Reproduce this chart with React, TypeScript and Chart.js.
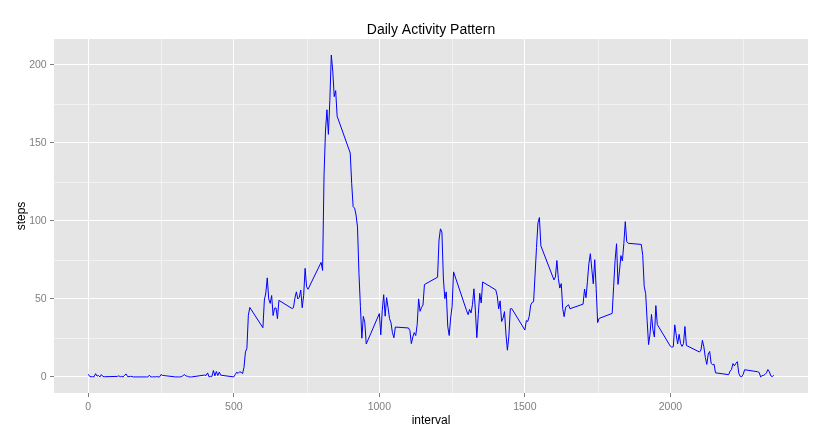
import React, { useEffect, useRef } from 'react';
import { Chart, registerables } from 'chart.js';
Chart.register(...registerables);

// 5-minute intervals (HHMM), one row per hour
const intervals: number[] = [
  0, 5, 10, 15, 20, 25, 30, 35, 40, 45, 50, 55,
  100, 105, 110, 115, 120, 125, 130, 135, 140, 145, 150, 155,
  200, 205, 210, 215, 220, 225, 230, 235, 240, 245, 250, 255,
  300, 305, 310, 315, 320, 325, 330, 335, 340, 345, 350, 355,
  400, 405, 410, 415, 420, 425, 430, 435, 440, 445, 450, 455,
  500, 505, 510, 515, 520, 525, 530, 535, 540, 545, 550, 555,
  600, 605, 610, 615, 620, 625, 630, 635, 640, 645, 650, 655,
  700, 705, 710, 715, 720, 725, 730, 735, 740, 745, 750, 755,
  800, 805, 810, 815, 820, 825, 830, 835, 840, 845, 850, 855,
  900, 905, 910, 915, 920, 925, 930, 935, 940, 945, 950, 955,
  1000, 1005, 1010, 1015, 1020, 1025, 1030, 1035, 1040, 1045, 1050, 1055,
  1100, 1105, 1110, 1115, 1120, 1125, 1130, 1135, 1140, 1145, 1150, 1155,
  1200, 1205, 1210, 1215, 1220, 1225, 1230, 1235, 1240, 1245, 1250, 1255,
  1300, 1305, 1310, 1315, 1320, 1325, 1330, 1335, 1340, 1345, 1350, 1355,
  1400, 1405, 1410, 1415, 1420, 1425, 1430, 1435, 1440, 1445, 1450, 1455,
  1500, 1505, 1510, 1515, 1520, 1525, 1530, 1535, 1540, 1545, 1550, 1555,
  1600, 1605, 1610, 1615, 1620, 1625, 1630, 1635, 1640, 1645, 1650, 1655,
  1700, 1705, 1710, 1715, 1720, 1725, 1730, 1735, 1740, 1745, 1750, 1755,
  1800, 1805, 1810, 1815, 1820, 1825, 1830, 1835, 1840, 1845, 1850, 1855,
  1900, 1905, 1910, 1915, 1920, 1925, 1930, 1935, 1940, 1945, 1950, 1955,
  2000, 2005, 2010, 2015, 2020, 2025, 2030, 2035, 2040, 2045, 2050, 2055,
  2100, 2105, 2110, 2115, 2120, 2125, 2130, 2135, 2140, 2145, 2150, 2155,
  2200, 2205, 2210, 2215, 2220, 2225, 2230, 2235, 2240, 2245, 2250, 2255,
  2300, 2305, 2310, 2315, 2320, 2325, 2330, 2335, 2340, 2345, 2350, 2355,
];

// mean steps per interval
const steps: number[] = [
  1.72, 0.34, 0.13, 0.15, 0.08, 2.09, 0.53, 0.87, 0, 1.47, 0.3, 0.13,
  0.32, 0.68, 0.15, 0.34, 0, 1.11, 1.83, 0.17, 0.17, 0.38, 0.26, 0,
  0, 0, 1.13, 0, 0, 0.13, 0, 0.23, 0, 0, 1.55, 0.94,
  0, 0, 0, 0, 0.21, 0.62, 1.62, 0.58, 0.49, 0.08, 0, 0,
  1.19, 0.94, 2.57, 0, 0.34, 0.36, 4.11, 0.66, 3.49, 0.83, 3.11, 1.11,
  0, 1.57, 3.0, 2.25, 3.32, 2.96, 2.09, 6.06, 16.02, 18.34, 39.45, 44.49,
  31.49, 49.26, 53.77, 63.45, 49.96, 47.08, 52.15, 39.34, 44.02, 44.17, 37.36, 49.04,
  43.81, 44.38, 50.51, 54.51, 49.92, 50.98, 55.68, 44.32, 52.26, 69.55, 57.85, 56.15,
  73.38, 68.21, 129.43, 157.53, 171.15, 155.4, 177.3, 206.17, 195.92, 179.57, 183.4, 167.02,
  143.45, 124.04, 109.11, 108.11, 103.72, 95.96, 66.21, 45.23, 24.79, 38.75, 34.98, 21.06,
  40.57, 26.98, 42.42, 52.66, 38.92, 50.79, 44.28, 37.42, 34.7, 28.34, 25.09, 31.94,
  31.36, 29.68, 21.32, 25.55, 28.38, 26.47, 33.43, 49.98, 42.04, 44.6, 46.04, 59.19,
  63.87, 87.7, 94.85, 92.77, 63.4, 50.17, 54.47, 32.42, 26.53, 37.74, 45.06, 67.28,
  42.34, 39.89, 43.26, 40.98, 46.25, 56.43, 42.75, 25.13, 39.96, 53.55, 47.32, 60.81,
  55.75, 51.96, 43.58, 48.7, 35.47, 37.55, 41.85, 27.51, 17.11, 26.08, 43.62, 43.77,
  30.02, 36.08, 35.49, 38.85, 45.96, 47.75, 48.13, 65.32, 82.91, 98.66, 102.11, 83.96,
  62.13, 64.13, 74.55, 63.17, 56.91, 59.77, 43.87, 38.57, 44.66, 45.45, 46.21, 43.68,
  46.62, 56.3, 50.72, 61.23, 72.72, 78.94, 68.94, 59.66, 75.09, 56.51, 34.77, 37.45,
  40.68, 58.02, 74.7, 85.32, 59.26, 67.77, 77.7, 74.25, 85.34, 99.45, 86.58, 85.6,
  84.87, 77.83, 58.04, 53.36, 36.32, 20.72, 27.4, 40.02, 30.21, 25.55, 45.66, 33.53,
  19.62, 19.02, 19.34, 33.34, 26.81, 21.17, 27.3, 21.34, 19.55, 21.32, 32.3, 20.15,
  15.94, 17.23, 23.45, 19.25, 12.45, 8.02, 14.66, 16.3, 8.68, 7.79, 8.13, 2.62,
  1.45, 3.68, 4.81, 8.51, 7.08, 8.7, 9.75, 2.21, 0.32, 0.11, 1.6, 4.6,
  3.3, 2.85, 0, 0.83, 0.96, 1.58, 2.6, 4.7, 3.3, 0.64, 0.23, 1.08,
];

const xBreaks = [0, 500, 1000, 1500, 2000];
const xMinorBreaks = [250, 750, 1250, 1750, 2250];
const yBreaks = [0, 50, 100, 150, 200];
const yMinorBreaks = [25, 75, 125, 175];

const FONT = "'Liberation Sans', Arial, Helvetica, sans-serif";

// grey panel + minor grid, drawn under the major grid
const panelPlugin = {
  id: 'panel',
  beforeDraw(chart: any) {
    const { ctx, chartArea: a, scales } = chart;
    ctx.save();
    ctx.fillStyle = '#E5E5E5';
    ctx.fillRect(a.left, a.top, a.right - a.left, a.bottom - a.top);
    ctx.strokeStyle = '#F2F2F2';
    ctx.lineWidth = 1;
    ctx.beginPath();
    xMinorBreaks.forEach((v) => {
      const px = Math.round(scales.x.getPixelForValue(v)) + 0.5;
      ctx.moveTo(px, a.top);
      ctx.lineTo(px, a.bottom);
    });
    yMinorBreaks.forEach((v) => {
      const py = Math.round(scales.y.getPixelForValue(v)) + 0.5;
      ctx.moveTo(a.left, py);
      ctx.lineTo(a.right, py);
    });
    ctx.stroke();
    ctx.restore();
  },
};

export default function App(): React.ReactElement {
  const canvasRef = useRef<HTMLCanvasElement | null>(null);
  const chartRef = useRef<Chart | null>(null);

  useEffect(() => {
    if (!canvasRef.current) return;
    const ctx = canvasRef.current.getContext('2d');
    if (!ctx) return;
    if (chartRef.current) chartRef.current.destroy();

    chartRef.current = new Chart(ctx, {
      type: 'line',
      data: {
        datasets: [
          {
            label: 'steps',
            data: intervals.map((x, i) => ({ x, y: steps[i] })),
            borderColor: '#0000FF',
            borderWidth: 1,
            pointRadius: 0,
            tension: 0,
            fill: false,
          },
        ],
      },
      options: {
        responsive: false,
        animation: false,
        layout: { padding: { left: 0, right: 20, top: 0, bottom: 0 } },
        plugins: {
          legend: { display: false },
          tooltip: { enabled: false },
          title: {
            display: true,
            text: 'Daily Activity Pattern',
            color: '#000000',
            fullSize: false,
            font: { family: FONT, size: 14, weight: 'normal' },
            padding: { top: 22, bottom: 0.2 },
          },
        },
        scales: {
          x: {
            type: 'linear',
            min: -117.75,
            max: 2472.75,
            afterBuildTicks: (scale: any) => {
              scale.ticks = xBreaks.map((value) => ({ value }));
            },
            afterFit: (scale: any) => {
              scale.height = 46;
            },
            title: {
              display: true,
              text: 'interval',
              color: '#000000',
              font: { family: FONT, size: 12 },
              padding: { top: 0, bottom: 11 },
            },
            ticks: {
              color: '#7F7F7F',
              font: { family: FONT, size: 10.5 },
              padding: 3.5,
              maxRotation: 0,
              autoSkip: false,
              callback: (value: any) => String(value),
            },
            grid: {
              color: '#FFFFFF',
              lineWidth: 1,
              drawTicks: true,
              tickLength: 4,
              tickColor: '#7F7F7F',
            },
            border: { display: false },
          },
          y: {
            type: 'linear',
            min: -10.31,
            max: 216.48,
            afterBuildTicks: (scale: any) => {
              scale.ticks = yBreaks.map((value) => ({ value }));
            },
            afterFit: (scale: any) => {
              scale.width = 54;
            },
            title: {
              display: true,
              text: 'steps',
              color: '#000000',
              font: { family: FONT, size: 12 },
              padding: { top: 14.2, bottom: 0 },
            },
            ticks: {
              color: '#7F7F7F',
              font: { family: FONT, size: 10.5 },
              padding: 3.3,
              autoSkip: false,
              callback: (value: any) => String(value),
            },
            grid: {
              color: '#FFFFFF',
              lineWidth: 1,
              drawTicks: true,
              tickLength: 4,
              tickColor: '#7F7F7F',
            },
            border: { display: false },
          },
        },
      },
      plugins: [panelPlugin],
    });

    return () => {
      if (chartRef.current) {
        chartRef.current.destroy();
        chartRef.current = null;
      }
    };
  }, []);

  return (
    <div style={{ position: 'absolute', left: 0, top: 0, width: 828, height: 439, background: '#FFFFFF' }}>
      <canvas ref={canvasRef} width={828} height={439} style={{ width: '828px', height: '439px' }} />
    </div>
  );
}
